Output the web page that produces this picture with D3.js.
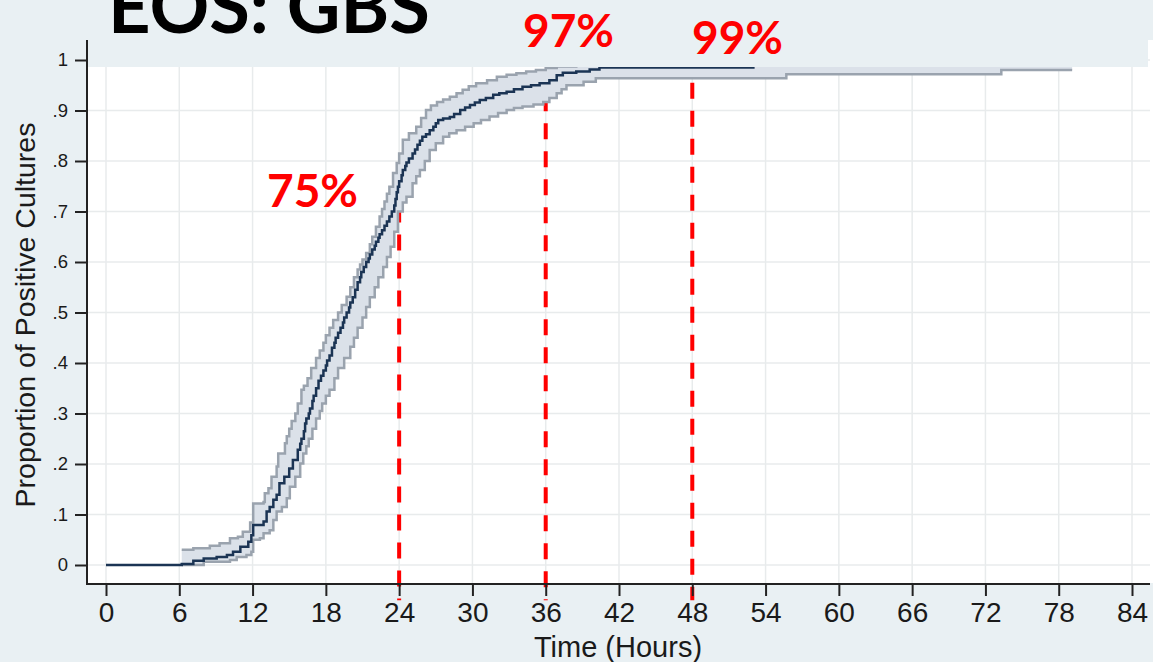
<!DOCTYPE html>
<html>
<head>
<meta charset="utf-8">
<script src="https://cdn.jsdelivr.net/npm/d3@7"></script>
<style>
  html, body { margin: 0; padding: 0; background: #e9f0f3; }
  svg { display: block; }
</style>
</head>
<body>
<svg id="chart" width="1153" height="662"></svg>
<script>
// ---- data ----
const title = "EOS: GBS";
const xLabel = "Time (Hours)";
const yLabel = "Proportion of Positive Cultures";
const xTicks = [0, 6, 12, 18, 24, 30, 36, 42, 48, 54, 60, 66, 72, 78, 84];
const yTicks = [0, 0.1, 0.2, 0.3, 0.4, 0.5, 0.6, 0.7, 0.8, 0.9, 1];
const yTickLabels = ["0", ".1", ".2", ".3", ".4", ".5", ".6", ".7", ".8", ".9", "1"];

// cumulative proportion (step function): hours / proportion
const curveTimes = [0, 6.2, 7.15, 8.0, 9.06, 9.9, 10.4, 11.0, 11.65, 11.9, 12.05, 12.9, 13.15, 13.4, 13.7, 13.97, 14.2, 14.6, 15.0, 15.3, 15.7, 15.9, 16.0, 16.2, 16.3, 16.4, 16.6, 16.7, 16.9, 17.0, 17.2, 17.4, 17.6, 17.8, 18.0, 18.1, 18.3, 18.5, 18.7, 18.8, 19.0, 19.2, 19.4, 19.5, 19.7, 19.9, 20.0, 20.2, 20.4, 20.6, 20.8, 20.9, 21.1, 21.3, 21.5, 21.6, 21.8, 22.0, 22.1, 22.3, 22.4, 22.6, 22.8, 23.0, 23.2, 23.4, 23.6, 23.7, 23.8, 23.9, 24.0, 24.2, 24.3, 24.5, 24.6, 24.8, 25.1, 25.3, 25.5, 25.7, 25.9, 26.2, 26.5, 26.8, 27.0, 27.2, 27.6, 28.15, 28.5, 29.0, 29.4, 29.8, 30.2, 30.6, 31.1, 31.7, 32.2, 32.8, 33.4, 34.1, 34.8, 35.5, 36.3, 36.9, 37.4, 38.5, 39.6, 40.4, 53.0, 79.1];
const curveVals  = [0, 0.002, 0.0085, 0.013, 0.016, 0.02, 0.026, 0.036, 0.046, 0.059, 0.079, 0.086, 0.106, 0.115, 0.129, 0.139, 0.162, 0.175, 0.191, 0.208, 0.228, 0.24, 0.25, 0.265, 0.28, 0.29, 0.30, 0.31, 0.325, 0.335, 0.35, 0.365, 0.375, 0.385, 0.395, 0.405, 0.415, 0.43, 0.44, 0.45, 0.46, 0.47, 0.48, 0.49, 0.50, 0.51, 0.52, 0.53, 0.545, 0.56, 0.57, 0.58, 0.59, 0.60, 0.607, 0.615, 0.625, 0.632, 0.64, 0.648, 0.655, 0.663, 0.672, 0.68, 0.69, 0.70, 0.712, 0.725, 0.738, 0.749, 0.76, 0.772, 0.782, 0.79, 0.797, 0.805, 0.815, 0.823, 0.832, 0.84, 0.848, 0.853, 0.861, 0.868, 0.875, 0.881, 0.884, 0.887, 0.893, 0.901, 0.906, 0.911, 0.916, 0.921, 0.925, 0.931, 0.934, 0.937, 0.942, 0.947, 0.95, 0.954, 0.96, 0.97, 0.975, 0.977, 0.981, 0.985, 1.0, 1.0];

// upper confidence bound
const upperTimes = [6.2, 7.15, 8.5, 9.3, 10.15, 10.8, 11.2, 11.8, 12.05, 12.9, 13.0, 13.3, 13.55, 13.97, 14.1, 14.65, 14.8, 15.0, 15.2, 15.5, 15.7, 16.0, 16.2, 16.5, 16.8, 17.2, 17.5, 17.8, 18.0, 18.3, 18.6, 19.0, 19.3, 19.7, 20.0, 20.3, 20.6, 20.8, 21.0, 21.3, 21.6, 21.8, 22.1, 22.4, 22.6, 22.8, 23.0, 23.2, 23.5, 23.8, 24.0, 24.3, 24.8, 25.4, 25.8, 26.2, 26.6, 27.1, 27.6, 28.15, 28.7, 29.2, 29.7, 30.3, 31.2, 32.0, 32.8, 33.6, 34.4, 35.2, 36.0, 36.9, 38.5, 79.1];
const upperVals  = [0.030, 0.033, 0.038, 0.043, 0.053, 0.056, 0.066, 0.084, 0.122, 0.125, 0.142, 0.152, 0.175, 0.195, 0.221, 0.241, 0.255, 0.27, 0.285, 0.3, 0.32, 0.347, 0.355, 0.37, 0.39, 0.41, 0.425, 0.44, 0.455, 0.47, 0.485, 0.5, 0.515, 0.531, 0.55, 0.57, 0.585, 0.595, 0.605, 0.618, 0.635, 0.65, 0.67, 0.69, 0.705, 0.72, 0.735, 0.749, 0.776, 0.796, 0.815, 0.842, 0.855, 0.868, 0.885, 0.901, 0.91, 0.917, 0.922, 0.927, 0.934, 0.941, 0.948, 0.954, 0.96, 0.967, 0.971, 0.974, 0.977, 0.98, 0.984, 0.987, 1.0, 1.0];

// lower confidence bound
const lowerTimes = [6.2, 8.0, 10.15, 10.7, 11.5, 11.9, 12.05, 12.6, 12.9, 13.4, 13.7, 13.97, 14.4, 14.8, 15.05, 15.5, 15.9, 16.15, 16.4, 16.6, 16.9, 17.2, 17.5, 17.7, 18.0, 18.3, 18.7, 19.0, 19.5, 20.0, 20.3, 20.6, 21.0, 21.3, 21.6, 22.0, 22.3, 22.7, 23.0, 23.3, 23.6, 23.9, 24.3, 24.6, 25.1, 25.4, 25.7, 26.1, 26.5, 27.0, 27.6, 28.1, 28.7, 29.4, 30.1, 30.7, 31.4, 32.1, 32.8, 33.4, 34.1, 35.0, 35.8, 36.3, 36.9, 37.3, 37.7, 39.1, 40.1, 55.7, 73.3, 79.1];
const lowerVals  = [0, 0.0066, 0.01, 0.016, 0.02, 0.026, 0.05, 0.053, 0.063, 0.069, 0.089, 0.106, 0.115, 0.132, 0.155, 0.175, 0.201, 0.221, 0.235, 0.25, 0.27, 0.29, 0.305, 0.32, 0.335, 0.347, 0.37, 0.39, 0.41, 0.432, 0.45, 0.47, 0.49, 0.511, 0.53, 0.55, 0.57, 0.59, 0.61, 0.63, 0.66, 0.7, 0.718, 0.729, 0.756, 0.77, 0.782, 0.80, 0.822, 0.835, 0.848, 0.855, 0.861, 0.868, 0.875, 0.881, 0.888, 0.895, 0.901, 0.905, 0.908, 0.912, 0.917, 0.925, 0.934, 0.942, 0.95, 0.957, 0.964, 0.972, 0.98, 0.98];

// reference markers
const refTimes = [24, 36, 48];
const refTops = [0.71, 0.93, 0.955];
const refBottom = -0.07;
const refLabels = ["75%", "97%", "99%"];
const refLabelPos = [[267, 207], [523, 47], [692, 54]]; // label anchor (left, baseline) in px

// ---- drawing ----
const svg = d3.select("#chart");
const W = 1153, H = 662;

const x = d3.scaleLinear().domain([0, 84]).range([106, 1132]);
const y = d3.scaleLinear().domain([0, 1]).range([565, 60]);

const plotLeft = 88, plotRight = 1153, plotTop = 40, plotBottom = 583;
const sans = "'Liberation Sans', Arial, sans-serif";

svg.append("rect").attr("width", W).attr("height", H).attr("fill", "#e9f0f3");
svg.append("rect").attr("x", plotLeft).attr("y", plotTop)
  .attr("width", plotRight - plotLeft).attr("height", plotBottom - plotTop).attr("fill", "#ffffff");

// grid
const grid = svg.append("g");
grid.selectAll("line.v").data(xTicks).join("line")
  .attr("x1", d => x(d)).attr("x2", d => x(d)).attr("y1", plotTop).attr("y2", plotBottom)
  .attr("stroke", "#e8ebec").attr("stroke-width", 1.5);
grid.selectAll("line.h").data(yTicks).join("line")
  .attr("x1", plotLeft).attr("x2", 1150).attr("y1", d => y(d)).attr("y2", d => y(d))
  .attr("stroke", "#e8ebec").attr("stroke-width", 1.5);

// red reference dashed lines (under band)
svg.selectAll("line.ref").data(refTimes).join("line")
  .attr("x1", d => x(d)).attr("x2", d => x(d))
  .attr("y1", (d, i) => y(refTops[i])).attr("y2", y(refBottom))
  .attr("stroke", "#ff0000").attr("stroke-width", 4)
  .attr("stroke-dasharray", "16,12");

// step lookup
function stepVal(times, vals, t) {
  let v = vals[0];
  for (let i = 0; i < times.length; i++) { if (times[i] <= t) v = vals[i]; else break; }
  return v;
}
const upper = upperTimes.map((t, i) => [t, upperVals[i]]);
const lower = lowerTimes.map((t, i) => [t, lowerVals[i]]);
const curve = curveTimes.map((t, i) => [t, curveVals[i]]);

const allT = Array.from(new Set(upperTimes.concat(lowerTimes))).sort((a, b) => a - b);
const bandData = allT.map(t => ({ t, hi: stepVal(upperTimes, upperVals, t), lo: stepVal(lowerTimes, lowerVals, t) }));

svg.append("path").datum(bandData)
  .attr("d", d3.area().x(d => x(d.t)).y0(d => y(d.lo)).y1(d => y(d.hi)).curve(d3.curveStepAfter))
  .attr("fill", "#dbe1e9");

const stepLine = d3.line().x(d => x(d[0])).y(d => y(d[1])).curve(d3.curveStepAfter);
svg.append("path").datum(upper).attr("d", stepLine)
  .attr("fill", "none").attr("stroke", "#9aa3ae").attr("stroke-width", 2.5);
svg.append("path").datum(lower).attr("d", stepLine)
  .attr("fill", "none").attr("stroke", "#9aa3ae").attr("stroke-width", 2.5);
svg.append("path").datum(curve).attr("d", stepLine)
  .attr("fill", "none").attr("stroke", "#1b3454").attr("stroke-width", 2.5);

// title strip covering the top of the plot
svg.append("rect").attr("x", 0).attr("y", 0).attr("width", 1148).attr("height", 67).attr("fill", "#e9f0f3");

// axes
const axisColor = "#222";
svg.append("line").attr("x1", 87).attr("x2", 87).attr("y1", plotTop).attr("y2", plotBottom + 1)
  .attr("stroke", axisColor).attr("stroke-width", 2);
svg.append("line").attr("x1", 86).attr("x2", 1150).attr("y1", plotBottom + 1).attr("y2", plotBottom + 1)
  .attr("stroke", axisColor).attr("stroke-width", 2);

const xAxis = d3.axisBottom(x).tickValues(xTicks).tickSize(12).tickPadding(6).tickSizeOuter(0);
const gx = svg.append("g").attr("transform", `translate(0,${plotBottom + 1})`).call(xAxis);
gx.select(".domain").remove();
gx.selectAll(".tick line").attr("stroke", axisColor).attr("stroke-width", 2);
gx.selectAll(".tick text").attr("font-family", sans)
  .attr("font-size", 28).attr("fill", "#1a1a1a");

const yAxis = d3.axisLeft(y).tickValues(yTicks).tickSize(12).tickPadding(7).tickSizeOuter(0)
  .tickFormat((d, i) => yTickLabels[i]);
const gy = svg.append("g").attr("transform", `translate(87,0)`).call(yAxis);
gy.select(".domain").remove();
gy.selectAll(".tick line").attr("stroke", axisColor).attr("stroke-width", 2);
gy.selectAll(".tick text").attr("font-family", sans)
  .attr("font-size", 18.5).attr("fill", "#1a1a1a");

// axis titles
svg.append("text").attr("x", 618).attr("y", 657).attr("text-anchor", "middle")
  .attr("font-family", sans).attr("font-size", 29).attr("fill", "#1a1a1a")
  .text(xLabel);
svg.append("text").attr("transform", "translate(35,315) rotate(-90)").attr("text-anchor", "middle")
  .attr("font-family", sans).attr("font-size", 28.5).attr("fill", "#1a1a1a")
  .text(yLabel);

// title
svg.append("text").attr("x", 108).attr("y", 33)
  .attr("font-family", "Lato, 'Open Sans', sans-serif").attr("font-weight", 700)
  .attr("font-size", 74).attr("fill", "#000").text(title);

// red labels
svg.selectAll("text.ref").data(refLabels).join("text")
  .attr("x", (d, i) => refLabelPos[i][0]).attr("y", (d, i) => refLabelPos[i][1])
  .attr("font-family", "Lato, 'Open Sans', sans-serif").attr("font-weight", 700)
  .attr("font-size", 46).attr("fill", "#ff0000").text(d => d);
</script>
</body>
</html>
